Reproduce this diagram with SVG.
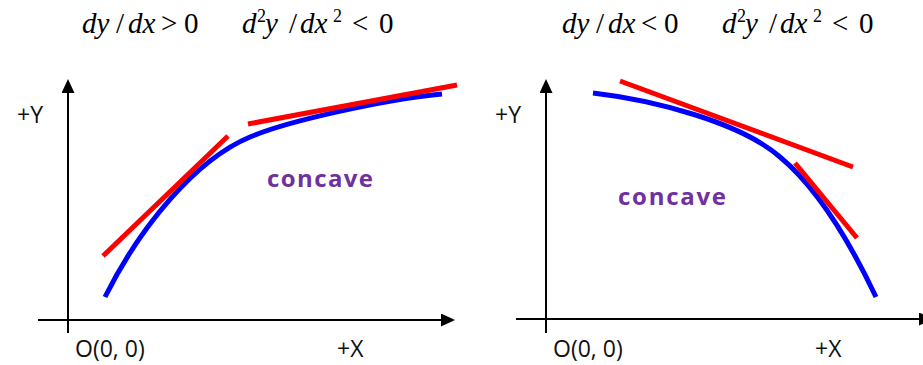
<svg xmlns="http://www.w3.org/2000/svg" width="923" height="365" viewBox="0 0 923 365">
<style>
.axis{stroke:#000;stroke-width:2;fill:none}
.curve{stroke:#0000ff;stroke-width:5;fill:none;stroke-linecap:butt}
.tan{stroke:#ff0000;stroke-width:5;fill:none;stroke-linecap:butt}
.lbl{font-family:"Open Sans","Liberation Sans",sans-serif;font-size:23px;fill:#111}
.cc{font-family:"Open Sans","Liberation Sans",sans-serif;font-size:24px;font-weight:bold;fill:#7030a0}
.eq{font-family:"Liberation Serif","Times New Roman",serif;font-size:29px;fill:#000}
.it{font-style:italic}
.sup{font-size:18px}
</style>
<defs>
<marker id="arr" markerWidth="15" markerHeight="14" refX="1" refY="6.5" orient="auto" markerUnits="userSpaceOnUse">
<path d="M0,0 L14,6.5 L0,13 Z" fill="#000"/>
</marker>
</defs>

<g id="left-panel">
  <g id="left-axes">
    <line class="axis" x1="68" y1="333" x2="68" y2="92" marker-end="url(#arr)"/>
    <line class="axis" x1="38" y1="320" x2="442" y2="320" marker-end="url(#arr)"/>
  </g>
  <g id="left-curve">
    <path class="curve" d="M105,297 C140,227 195,160 250,137 C285,122 380,100 442,94"/>
  </g>
  <g id="left-tangents">
    <line class="tan" x1="103" y1="256" x2="228" y2="136"/>
    <line class="tan" x1="248" y1="124" x2="457" y2="85"/>
  </g>
  <g id="left-labels">
    <text class="lbl" x="17" y="123">+Y</text>
    <text class="lbl" x="75" y="357">O(0, 0)</text>
    <text class="lbl" x="337" y="357">+X</text>
    <text class="cc" x="267" y="187" textLength="106" lengthAdjust="spacing">concave</text>
    <text class="eq" y="33"><tspan class="it" x="82">dy</tspan><tspan x="116">/</tspan><tspan class="it" x="128">dx</tspan><tspan x="161">&gt;</tspan><tspan x="184">0</tspan><tspan class="it" x="242">d</tspan><tspan class="sup" x="257" y="22">2</tspan><tspan class="it" x="265" y="33">y</tspan><tspan x="289">/</tspan><tspan class="it" x="300">dx</tspan><tspan class="sup" x="333" y="22">2</tspan><tspan x="352" y="33">&lt;</tspan><tspan x="379">0</tspan></text>
  </g>
</g>

<g id="right-panel">
  <g id="right-axes">
    <line class="axis" x1="546" y1="333" x2="546" y2="92" marker-end="url(#arr)"/>
    <line class="axis" x1="516" y1="319" x2="920" y2="319" marker-end="url(#arr)"/>
  </g>
  <g id="right-curve">
    <path class="curve" d="M593,93 C653,100 740,122 780,157 C815,186 848,238 876,297"/>
  </g>
  <g id="right-tangents">
    <line class="tan" x1="620" y1="81" x2="853" y2="167"/>
    <line class="tan" x1="795" y1="163" x2="857" y2="238"/>
  </g>
  <g id="right-labels">
    <text class="lbl" x="495" y="123">+Y</text>
    <text class="lbl" x="553" y="357">O(0, 0)</text>
    <text class="lbl" x="815" y="357">+X</text>
    <text class="cc" x="618" y="205" textLength="108" lengthAdjust="spacing">concave</text>
    <text class="eq" y="33"><tspan class="it" x="562">dy</tspan><tspan x="596">/</tspan><tspan class="it" x="608">dx</tspan><tspan x="641">&lt;</tspan><tspan x="664">0</tspan><tspan class="it" x="722">d</tspan><tspan class="sup" x="737" y="22">2</tspan><tspan class="it" x="745" y="33">y</tspan><tspan x="769">/</tspan><tspan class="it" x="780">dx</tspan><tspan class="sup" x="813" y="22">2</tspan><tspan x="832" y="33">&lt;</tspan><tspan x="859">0</tspan></text>
  </g>
</g>
</svg>
